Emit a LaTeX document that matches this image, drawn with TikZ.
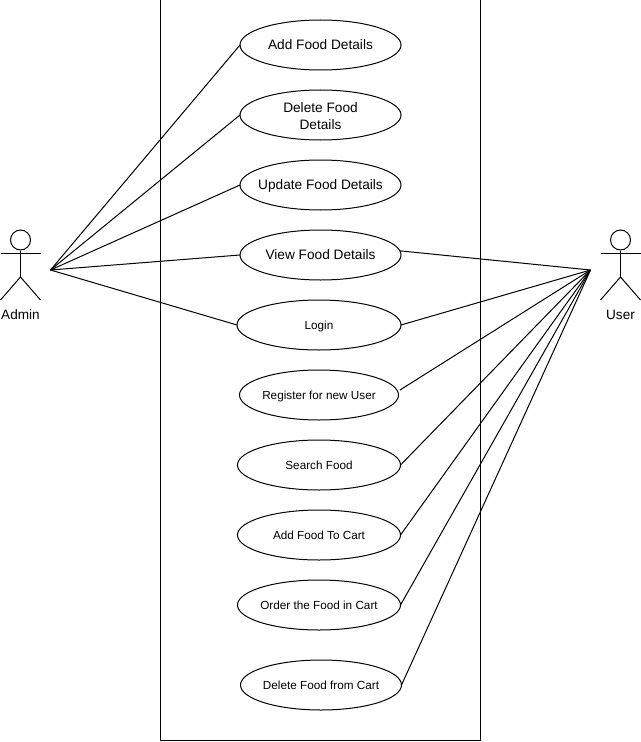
\documentclass[tikz,border=0pt]{standalone}
\usepackage{fontspec}
\setmainfont{Liberation Sans}
\usetikzlibrary{shapes.geometric}
\tikzset{x=0.75pt,y=-0.75pt,
 uc/.style={draw=black,line width=0.75pt,ellipse,inner ysep=0pt,inner xsep=-15pt,outer sep=0pt,align=center,font=\fontsize{10.25pt}{12.75pt}\selectfont},
 ucs/.style={uc,font=\fontsize{8.8pt}{10.5pt}\selectfont},
 ln/.style={draw=black,line width=0.75pt},
 headc/.style={draw=black,line width=0.75pt,circle,minimum size=15pt,inner sep=0pt},
 lab/.style={font=\fontsize{10.2pt}{12pt}\selectfont,inner sep=0pt}}
\newcommand{\usecase}[5]{\node[#1,minimum width=#4*0.75pt,minimum height=37.5pt] (#2) at (#3) {#5};}
\newcommand{\st}{\rule[-2.5pt]{0pt}{11.3pt}}
\newcommand{\stb}{\rule[-2.5pt]{0pt}{12.4pt}}
\begin{document}
\begin{tikzpicture}
\useasboundingbox (0,0) rectangle (641,742);
\fill[white] (0,0) rectangle (641,742);
\node[draw=black,line width=0.75pt,minimum width=240pt,minimum height=555pt,inner sep=0pt] (sys) at (320.5,370) {};
\usecase{uc}{a}{320.5,45}{161}{\stb Add Food Details}
\usecase{uc}{b}{320.5,115}{161}{\rule{0pt}{8.6pt}Delete Food\\Details}
\usecase{uc}{c}{320.5,185}{161}{\stb Update Food Details}
\usecase{uc}{d}{320.5,255}{161}{\stb View Food Details}
\usecase{ucs}{e}{319,325}{164}{\st Login}
\usecase{ucs}{f}{319,395}{159}{\st Register for new User}
\usecase{ucs}{g}{319,465}{163}{\st Search Food}
\usecase{ucs}{h}{319,535}{163}{\st Add Food To Cart}
\usecase{ucs}{i}{319,605}{163}{\st Order the Food in Cart}
\usecase{ucs}{j}{321,685}{161}{\st Delete Food from Cart}
\coordinate (ah) at (50.5,270);
\coordinate (uh) at (590.5,270);
\coordinate (fe) at (400,390);
\node[headc] (ahead) at (20.5,240) {};
\node[headc] (uhead) at (620.5,240) {};
\coordinate (ahip) at (20.5,277);
\coordinate (uhip) at (620.5,277);
\draw[ln] (ahead.south) -- (ahip);
\draw[ln] (0.5,253) -- (40.5,253);
\draw[ln] (0.5,300) -- (ahip) -- (40.5,300);
\draw[ln] (uhead.south) -- (uhip);
\draw[ln] (600.5,253) -- (640.5,253);
\draw[ln] (600.5,300) -- (uhip) -- (640.5,300);
\node[lab] (al) at (20.5,315) {Admin};
\node[lab] (ul) at (620.5,315) {User};
\draw[ln] (ah) -- (a.west);
\draw[ln] (ah) -- (b.west);
\draw[ln] (ah) -- (c.west);
\draw[ln] (ah) -- (d.west);
\draw[ln] (ah) -- (e.west);
\draw[ln] (d.3.6) -- (uh);
\draw[ln] (e.east) -- (uh);
\draw[ln] (fe) -- (uh);
\draw[ln] (g.east) -- (uh);
\draw[ln] (h.east) -- (uh);
\draw[ln] (i.east) -- (uh);
\draw[ln] (j.east) -- (uh);
\end{tikzpicture}
\end{document}
